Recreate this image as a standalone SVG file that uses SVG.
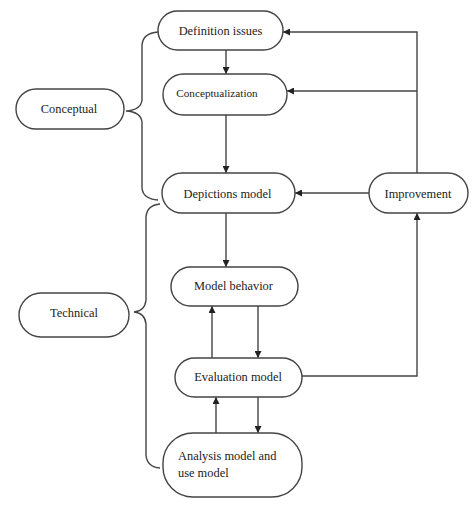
<svg xmlns="http://www.w3.org/2000/svg" width="474" height="512" viewBox="0 0 474 512">
<defs>
<marker id="ah" viewBox="0 0 10 10" refX="10" refY="5" markerWidth="7" markerHeight="7" markerUnits="userSpaceOnUse" orient="auto">
<path d="M0,0 L10,5 L0,10 Z" fill="#222"/>
</marker>
<style>
.n{fill:#fff;stroke:#444;stroke-width:1.4}
.t{font-family:"Liberation Serif","Times New Roman",serif;font-size:12.4px;fill:#222;text-anchor:middle}
.c{fill:none;stroke:#444;stroke-width:1.4}
</style>
</defs>
<rect width="474" height="512" fill="#fff"/>
<g id="connectors">
<path class="c" d="M226,50 V74" marker-end="url(#ah)"/>
<path class="c" d="M226,115 V173" marker-end="url(#ah)"/>
<path class="c" d="M226,213 V267" marker-end="url(#ah)"/>
<path class="c" d="M258,306 V358" marker-end="url(#ah)"/>
<path class="c" d="M212,358 V306" marker-end="url(#ah)"/>
<path class="c" d="M258,397 V433" marker-end="url(#ah)"/>
<path class="c" d="M216,433 V397" marker-end="url(#ah)"/>
<path class="c" d="M302,376 H417 V213" marker-end="url(#ah)"/>
<path class="c" d="M417,173 V32 H283" marker-end="url(#ah)"/>
<path class="c" d="M417,91 H287" marker-end="url(#ah)"/>
<path class="c" d="M369,193 H295" marker-end="url(#ah)"/>
<path class="c" d="M158,32 Q143,33 142,45 V100 Q141,110 126,111 Q141,112 142,122 V188 Q143,199 158,200"/>
<path class="c" d="M160,204 Q147,205 146,217 V300 Q145,311 134,312 Q145,313 146,324 V455 Q147,467 160,468"/>
</g>
<g id="definition"><rect class="n" x="158" y="11" width="125" height="39" rx="19.5"/><text class="t" x="220.5" y="34.5">Definition issues</text></g>
<g id="conceptualization"><rect class="n" x="163" y="74" width="124" height="41" rx="20.5"/><text class="t" x="217" y="97" style="font-size:11.2px">Conceptualization</text></g>
<g id="conceptual"><rect class="n" x="16" y="89" width="108" height="40" rx="20"/><text class="t" x="69" y="112.5">Conceptual</text></g>
<g id="depictions"><rect class="n" x="162" y="173" width="133" height="40" rx="20"/><text class="t" x="227.5" y="197.5">Depictions model</text></g>
<g id="improvement"><rect class="n" x="369" y="173" width="99" height="40" rx="20"/><text class="t" x="418" y="197.5">Improvement</text></g>
<g id="behavior"><rect class="n" x="171" y="267" width="127" height="39" rx="19.5"/><text class="t" x="233.5" y="289.5">Model behavior</text></g>
<g id="technical"><rect class="n" x="19" y="293" width="110" height="44" rx="22"/><text class="t" x="74" y="316.5">Technical</text></g>
<g id="evaluation"><rect class="n" x="175" y="358" width="127" height="39" rx="19.5"/><text class="t" x="238" y="380.5">Evaluation model</text></g>
<g id="analysis"><rect class="n" x="163" y="433" width="139" height="64" rx="30"/><text class="t" style="text-anchor:start" x="178" y="459.5">Analysis model and</text><text class="t" style="text-anchor:start" x="178" y="476.5">use model</text></g>
</svg>
